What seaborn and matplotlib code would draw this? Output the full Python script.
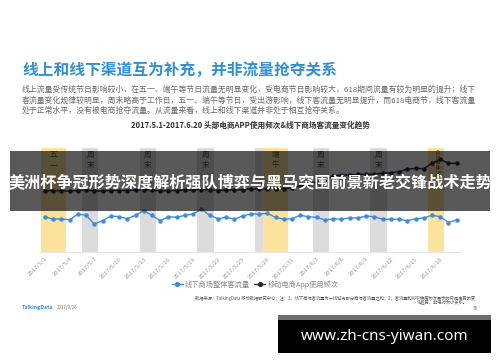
import numpy as np
import pandas as pd
import seaborn as sns
import matplotlib
matplotlib.use("Agg")
import matplotlib.pyplot as plt
from matplotlib.patches import Rectangle
from matplotlib.lines import Line2D

# ---------------- data ----------------
dates = pd.date_range("2017-05-01", "2017-06-20", freq="D")
date_labels = [f"{d.year}/{d.month}/{d.day}" for d in dates]

offline_traffic = [35.3, 32.7, 33.3, 32.0, 38.0, 36.7, 28.0, 31.3, 36.0, 35.3,
                   33.3, 36.7, 41.3, 36.7, 31.3, 35.3, 34.7, 36.7, 38.0, 42.7,
                   36.7, 33.3, 34.7, 32.7, 36.0, 38.0, 38.0, 38.7, 34.7, 32.7,
                   33.3, 36.7, 35.3, 34.7, 32.0, 33.3, 32.7, 34.2, 34.0, 36.0,
                   35.3, 32.7, 32.7, 32.7, 31.3, 33.3, 34.0, 36.7, 35.3, 29.5,
                   32.0]
app_frequency = [61.0, 61.5, 61.0, 61.0, 61.5, 62.0, 61.0, 61.0, 61.5, 61.5,
                 61.5, 62.0, 62.5, 62.0, 61.0, 61.5, 61.5, 62.0, 62.0, 62.5,
                 62.0, 61.5, 62.0, 62.0, 62.5, 63.0, 63.0, 63.0, 63.0, 63.5,
                 64.0, 66.0, 68.0, 70.0, 72.0, 76.5, 77.0, 77.0, 77.7, 77.7,
                 77.7, 78.7, 79.3, 80.3, 82.7, 83.7, 83.3, 88.7, 92.7, 88.7,
                 88.7]

series_names = ["线下商场整体客流量", "移动电商App使用频次"]

# shaded periods: (label, first day index, last day index, kind)
band_labels = ["五\n一", "周\n末", "周\n末", "周\n末", "", "端\n午", "周\n末", "周\n末", "618电商节"]
band_start = [0, 5, 12, 19, 26, 27, 33, 40, 47]
band_end = [2, 6, 13, 20, 26, 29, 34, 41, 48]
band_kind = ["holiday", "weekend", "weekend", "weekend", "weekend", "holiday", "weekend", "weekend", "holiday"]

title = "线上和线下渠道互为补充，并非流量抢夺关系"
body_lines = [
    "线上流量受传统节日影响较小，在五一、端午等节日流量无明显变化，受电商节日影响较大，618期间流量有较为明显的提升；线下",
    "客流量变化规律较明显，周末略高于工作日，五一、端午等节日，受出游影响，线下客流量无明显提升，而618电商节，线下客流量",
    "处于正常水平，没有被电商抢夺流量。从流量来看，线上和线下渠道并非处于相互抢夺关系。",
]
subtitle = "2017.5.1-2017.6.20 头部电商APP使用频次&线下商场客流量变化趋势"
footnote = ["数据来源：TalkingData 移动数据研究中心；注：1、线下商场客流量为一线城市部分商场客流量之和；2、客流量和APP使用频次展示的只是走势的变",
            "化趋势，非绝对大小关系。"]
banner_text = "美洲杯争冠形势深度解析强队博弈与黑马突围前景新老交锋战术走势"
watermark = "www.zh-cns-yiwan.com"

# ---------------- style ----------------
sns.set_theme(style="white")
plt.rcParams["font.family"] = ["Noto Sans CJK SC", "DejaVu Sans"]

W, H = 500, 362
fig = plt.figure(figsize=(5, 3.62), dpi=100)
fig.patch.set_facecolor("white")

def fx(x):
    return x / W

def fy(y):
    return 1 - y / H

BLUE = "#3f8cd8"
DARK = "#24303f"
YELLOW = "#fbe39e"
GREY = "#dcdcdc"

# ---------------- chart ----------------
ax = fig.add_axes([fx(40), fy(252), fx(460) - fx(40), (252 - 148) / H])
df = pd.DataFrame({
    "day": list(range(len(dates))) * 2,
    "value": offline_traffic + app_frequency,
    "series": [series_names[0]] * len(dates) + [series_names[1]] * len(dates),
})

for lab, s, e, k in zip(band_labels, band_start, band_end, band_kind):
    ax.axvspan(s - 0.5, e + 0.5, color=YELLOW if k == "holiday" else GREY, lw=0, zorder=0)
    if lab:
        c = (s + e) / 2
        if lab.startswith("618"):
            ax.text(c, 103, lab, rotation=-90, ha="center", va="top", fontsize=4.2, color="#555555")
        else:
            ax.text(c, 101, lab, ha="center", va="top", fontsize=5.5, color="#555555", linespacing=1.3)

sns.lineplot(data=df, x="day", y="value", hue="series", palette=[BLUE, DARK],
             marker="o", markersize=3.2, markeredgewidth=0, linewidth=1.0, ax=ax,
             legend=False, zorder=3)

ax.set_xlim(-0.6, 50.4)
ax.set_ylim(0, 104)
ax.set_yticks([])
tick_idx = list(range(0, len(dates), 3))
ax.set_xticks(tick_idx)
ax.set_xticklabels([date_labels[i] for i in tick_idx], rotation=45, ha="right",
                   fontsize=4.3, color="#9a9a9a", rotation_mode="anchor")
ax.tick_params(axis="x", length=0, pad=3)
ax.set_xlabel("")
ax.set_ylabel("")
for sp in ["top", "right", "left"]:
    ax.spines[sp].set_visible(False)
ax.spines["bottom"].set_color("#e6e6e6")
ax.spines["bottom"].set_linewidth(0.8)
ax.set_facecolor("none")

# legend
handles = [Line2D([0], [0], color=BLUE, marker="o", markersize=2.8, lw=1.0),
           Line2D([0], [0], color=DARK, marker="o", markersize=2.8, lw=1.0)]
leg = fig.legend(handles, series_names, loc="center", bbox_to_anchor=(fx(255), fy(284.5)),
                 ncol=2, frameon=False, fontsize=5.2, handlelength=1.6, columnspacing=0.5,
                 handletextpad=0.25)
for t in leg.get_texts():
    t.set_color("#8a8a8a")

# ---------------- texts ----------------
fig.text(fx(22), fy(70), title, fontsize=11.3, color="#2f8fd8", fontweight="bold", va="center", ha="left")
for i, line in enumerate(body_lines):
    fig.text(fx(22), fy(90 + i * 10.5), line, fontsize=5.65, color="#6a6a6a", va="center", ha="left")
fig.text(fx(250), fy(125), subtitle, fontsize=5.5, color="#333333", fontweight="bold", va="center", ha="center")
fig.text(fx(475), fy(298), footnote[0], fontsize=3.1, color="#555555", va="center", ha="right")
fig.text(fx(468), fy(302.5), footnote[1], fontsize=3.1, color="#555555", va="center", ha="right")
fig.text(fx(22), fy(308), "TalkingData", fontsize=3.8, color="#3f8cd8", fontweight="bold", va="center", ha="left")
fig.text(fx(57), fy(308), "2017/9/26", fontsize=3.2, color="#777777", va="center", ha="left")
fig.text(fx(478), fy(308), "36", fontsize=3.3, color="#777777", va="center", ha="right")

# ---------------- overlay banner ----------------
fig.patches.append(Rectangle((fx(10), fy(210.7)), fx(490) - fx(10), (210.7 - 150.7) / H,
                             transform=fig.transFigure, facecolor="black", alpha=0.65,
                             lw=0, zorder=5))
fig.text(fx(250), fy(182), banner_text, fontsize=11.6, color="white", fontweight="bold",
         va="center", ha="center", zorder=6)

# ---------------- watermark box ----------------
fig.patches.append(Rectangle((fx(278), fy(320)), fx(491) - fx(278), 5 / H,
                             transform=fig.transFigure, facecolor="#6e6e6e", lw=0, zorder=5))
fig.patches.append(Rectangle((fx(278), fy(353)), fx(491) - fx(278), 33 / H,
                             transform=fig.transFigure, facecolor="black", lw=0, zorder=5))
fig.text(fx(384.5), fy(337), watermark, fontsize=11, color="white", fontweight="bold",
         family=["Noto Sans", "DejaVu Sans"], va="center", ha="center", zorder=6)

fig.savefig("out.png", dpi=100, facecolor="white")
